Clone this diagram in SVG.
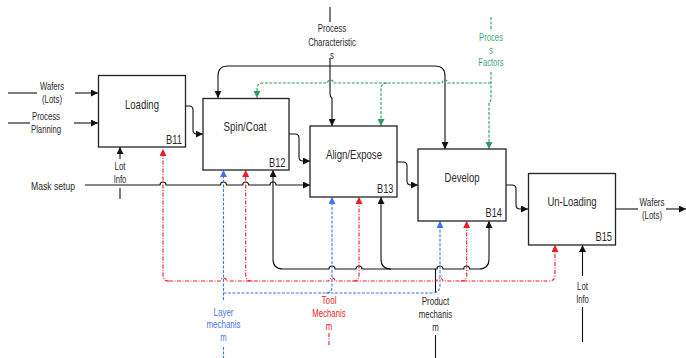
<svg xmlns="http://www.w3.org/2000/svg" width="686" height="358" viewBox="0 0 686 358">
<defs>
<marker id="ak" markerUnits="userSpaceOnUse" markerWidth="8" markerHeight="7" refX="7" refY="3.5" orient="auto"><path d="M0,0 L7,3.5 L0,7 z" fill="#111"/></marker>
<marker id="ab" markerUnits="userSpaceOnUse" markerWidth="8" markerHeight="7" refX="7" refY="3.5" orient="auto"><path d="M0,0 L7,3.5 L0,7 z" fill="#3f74f0"/></marker>
<marker id="ar" markerUnits="userSpaceOnUse" markerWidth="8" markerHeight="7" refX="7" refY="3.5" orient="auto"><path d="M0,0 L7,3.5 L0,7 z" fill="#ee1c24"/></marker>
<marker id="ag" markerUnits="userSpaceOnUse" markerWidth="8" markerHeight="7" refX="7" refY="3.5" orient="auto"><path d="M0,0 L7,3.5 L0,7 z" fill="#2f9a62"/></marker>
</defs>
<style>
.box{fill:#fff;stroke:#222;stroke-width:1.3}
.t{font-family:"Liberation Sans",Arial,sans-serif;fill:#2a2a2a;text-anchor:middle}
.title{font-size:13px}
.num{font-size:12.5px;text-anchor:end}
.lbl{font-size:10px}
.k{fill:none;stroke:#111;stroke-width:1.1}
.b{fill:none;stroke:#3f74f0;stroke-width:1.1;stroke-dasharray:3 1.5}
.r{fill:none;stroke:#ee1c24;stroke-width:1.1;stroke-dasharray:4 1.5 1 1.5}
.g{fill:none;stroke:#2f9a62;stroke-width:1.1;stroke-dasharray:3 1.5}
</style>
<rect width="686" height="358" fill="#fff"/>

<g id="connectors">
  <path class="k" d="M8,93 H37"/>
  <path class="k" d="M75,93 H98" marker-end="url(#ak)"/>
  <path class="k" d="M8,123 H30"/>
  <path class="k" d="M74,123 H98" marker-end="url(#ak)"/>
  <path class="k" d="M120,159 V147" marker-end="url(#ak)"/>
  <path class="k" d="M120,188 V199"/>
  <path class="k" d="M186,106 H189 Q193,106 193,110 V130 Q193,134 197,134 H203" marker-end="url(#ak)"/>
  <path class="k" d="M289,134 H295 Q299,134 299,138 V157 Q299,161 303,161 H310" marker-end="url(#ak)"/>
  <path class="k" d="M397,162 H403 Q407,162 407,166 V181 Q407,185 411,185 H418" marker-end="url(#ak)"/>
  <path class="k" d="M506,185 H512 Q516,185 516,189 V205 Q516,209 520,209 H528" marker-end="url(#ak)"/>
  <path class="k" d="M616,209 H638"/>
  <path class="k" d="M666,209 H686" marker-end="url(#ak)"/>
  <path class="k" d="M85,185 H160 a3,3 0 0 1 6,0 H220.5 a3,3 0 0 1 6,0 H242.7 a3,3 0 0 1 6,0 H270 a3,3 0 0 1 6,0 H310" marker-end="url(#ak)"/>
  <path class="k" d="M330,7 V22"/>
  <path class="k" d="M330,58 V94 Q330,97 332,98 V126" marker-end="url(#ak)"/>
  <path class="k" d="M330,66 H228 Q218,66 218,76 V98" marker-end="url(#ak)"/>
  <path class="k" d="M330,66 H435 Q445,66 445,76 V149" marker-end="url(#ak)"/>
  <path class="g" d="M491,17 V31"/>
  <path class="g" d="M491,72 V98 Q491,101 489,103 V149" marker-end="url(#ag)"/>
  <path class="g" d="M491,83 H448 a3,3 0 0 0 -6,0 H333.5 a3,3 0 0 0 -6,0 H263 Q257,83 257,89 V98" marker-end="url(#ag)"/>
  <path class="g" d="M387,83 Q381,83 381,89 V126" marker-end="url(#ag)"/>
  <path class="k" d="M435.5,293 V269 H362 a3,3 0 0 0 -6,0 H335 a3,3 0 0 0 -6,0 H283 Q273,269 273,259 V170" marker-end="url(#ak)"/>
  <path class="k" d="M391,269 Q381,269 381,259 V197" marker-end="url(#ak)"/>
  <path class="k" d="M435.5,269 H437 a3,3 0 0 1 6,0 H463.7 a3,3 0 0 1 6,0 H479 Q489,269 489,259 V221" marker-end="url(#ak)"/>
  <path class="k" d="M435.5,335 V358"/>
  <path class="r" d="M169,281 Q163,281 163,275 V149" marker-end="url(#ar)"/>
  <path class="r" d="M169,281 H220.5 a3,3 0 0 1 6,0 H329 a3,3 0 0 1 6,0 H437 a3,3 0 0 1 6,0 H549 Q555,281 555,275 V245" marker-end="url(#ar)"/>
  <path class="r" d="M251.7,281 Q245.7,281 245.7,275 V170" marker-end="url(#ar)"/>
  <path class="r" d="M353,281 Q359,281 359,275 V197" marker-end="url(#ar)"/>
  <path class="r" d="M460.7,281 Q466.7,281 466.7,275 V221" marker-end="url(#ar)"/>
  <path class="r" d="M329,333 V346"/>
  <path class="b" d="M223.5,300 V170" marker-end="url(#ab)"/>
  <path class="b" d="M223.5,293 H326 Q332,293 332,287 V197" marker-end="url(#ab)"/>
  <path class="b" d="M326,293 H432 Q440,293 440,285 V221" marker-end="url(#ab)"/>
  <path class="b" d="M223.5,347 V358"/>
  <path class="k" d="M582.5,276 V245" marker-end="url(#ak)"/>
  <path class="k" d="M582.5,307 V342"/>
</g>

<g id="B11">
  <rect class="box" x="98.5" y="75.5" width="87" height="71.5"/>
  <text class="t title" x="142" y="108.5" textLength="34" lengthAdjust="spacingAndGlyphs">Loading</text>
  <text class="t num" x="182" y="144" textLength="16" lengthAdjust="spacingAndGlyphs">B11</text>
</g>
<g id="B12">
  <rect class="box" x="203" y="98.5" width="86" height="71.5"/>
  <text class="t title" x="245" y="130.5" textLength="43" lengthAdjust="spacingAndGlyphs">Spin/Coat</text>
  <text class="t num" x="285.5" y="167" textLength="16.5" lengthAdjust="spacingAndGlyphs">B12</text>
</g>
<g id="B13">
  <rect class="box" x="310" y="126" width="87" height="71"/>
  <text class="t title" x="354" y="158.5" textLength="56" lengthAdjust="spacingAndGlyphs">Align/Expose</text>
  <text class="t num" x="393.5" y="193" textLength="16.5" lengthAdjust="spacingAndGlyphs">B13</text>
</g>
<g id="B14">
  <rect class="box" x="418" y="149" width="88" height="72"/>
  <text class="t title" x="462" y="181.5" textLength="35" lengthAdjust="spacingAndGlyphs">Develop</text>
  <text class="t num" x="502" y="217" textLength="16.5" lengthAdjust="spacingAndGlyphs">B14</text>
</g>
<g id="B15">
  <rect class="box" x="528.5" y="173.5" width="87" height="71.5"/>
  <text class="t title" x="572" y="205.5" textLength="49" lengthAdjust="spacingAndGlyphs">Un-Loading</text>
  <text class="t num" x="612" y="241" textLength="16.5" lengthAdjust="spacingAndGlyphs">B15</text>
</g>

<g id="labels">
  <text class="t lbl" x="52" y="89.5" textLength="24" lengthAdjust="spacingAndGlyphs">Wafers</text>
  <text class="t lbl" x="52" y="102.5" textLength="20" lengthAdjust="spacingAndGlyphs">(Lots)</text>
  <text class="t lbl" x="46" y="119.5" textLength="28" lengthAdjust="spacingAndGlyphs">Process</text>
  <text class="t lbl" x="46" y="132.5" textLength="30" lengthAdjust="spacingAndGlyphs">Planning</text>
  <text class="t lbl" x="120" y="169.5" textLength="11" lengthAdjust="spacingAndGlyphs">Lot</text>
  <text class="t lbl" x="120" y="182.5" textLength="12.7" lengthAdjust="spacingAndGlyphs">Info</text>
  <text class="t" style="font-size:11px" x="53" y="189.5" textLength="44" lengthAdjust="spacingAndGlyphs">Mask setup</text>
  <text class="t lbl" x="332" y="31.5" textLength="28.3" lengthAdjust="spacingAndGlyphs">Process</text>
  <text class="t lbl" x="332" y="45.5" textLength="47.7" lengthAdjust="spacingAndGlyphs">Characteristic</text>
  <text class="t lbl" x="332" y="58.5" textLength="4" lengthAdjust="spacingAndGlyphs">s</text>
  <text class="t lbl" x="491" y="40.5" style="fill:#3fa872" textLength="24" lengthAdjust="spacingAndGlyphs">Proces</text>
  <text class="t lbl" x="491" y="53.5" style="fill:#3fa872" textLength="4" lengthAdjust="spacingAndGlyphs">s</text>
  <text class="t lbl" x="491" y="65.5" style="fill:#3fa872" textLength="25.3" lengthAdjust="spacingAndGlyphs">Factors</text>
  <text class="t lbl" x="652" y="206" textLength="25" lengthAdjust="spacingAndGlyphs">Wafers</text>
  <text class="t lbl" x="652" y="219" textLength="20" lengthAdjust="spacingAndGlyphs">(Lots)</text>
  <text class="t lbl" x="582.5" y="290" textLength="11" lengthAdjust="spacingAndGlyphs">Lot</text>
  <text class="t lbl" x="582.5" y="303" textLength="12.7" lengthAdjust="spacingAndGlyphs">Info</text>
  <text class="t lbl" x="223.5" y="316" style="fill:#4d78e8" textLength="20" lengthAdjust="spacingAndGlyphs">Layer</text>
  <text class="t lbl" x="223.5" y="328" style="fill:#4d78e8" textLength="34" lengthAdjust="spacingAndGlyphs">mechanis</text>
  <text class="t lbl" x="223.5" y="340.5" style="fill:#4d78e8" textLength="6.5" lengthAdjust="spacingAndGlyphs">m</text>
  <text class="t lbl" x="329" y="304" style="fill:#ee1c24" textLength="15" lengthAdjust="spacingAndGlyphs">Tool</text>
  <text class="t lbl" x="329" y="317" style="fill:#ee1c24" textLength="33.3" lengthAdjust="spacingAndGlyphs">Mechanis</text>
  <text class="t lbl" x="329" y="330" style="fill:#ee1c24" textLength="6.5" lengthAdjust="spacingAndGlyphs">m</text>
  <text class="t lbl" x="435.5" y="305" textLength="27.7" lengthAdjust="spacingAndGlyphs">Product</text>
  <text class="t lbl" x="435.5" y="318" textLength="33.3" lengthAdjust="spacingAndGlyphs">mechanis</text>
  <text class="t lbl" x="435.5" y="331" textLength="6.5" lengthAdjust="spacingAndGlyphs">m</text>
</g>
</svg>
